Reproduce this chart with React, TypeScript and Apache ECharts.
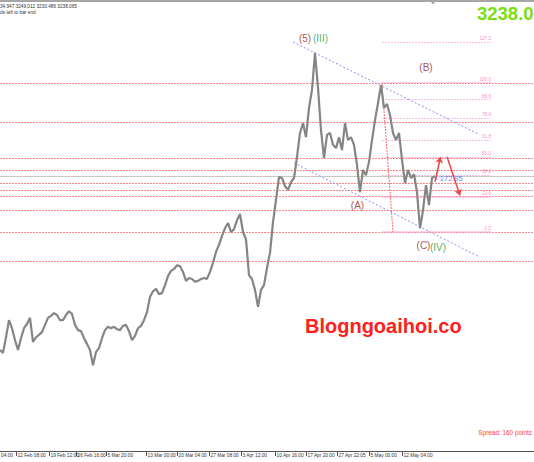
import React, { useEffect, useRef } from "react";
import * as echarts from "echarts";

// ---------- data ----------
const BAR_STEP = 3; // bars between samples
const closePrices = [
  2871, 2865, 2898, 2934, 2917, 2892, 2871, 2896, 2917, 2926,
  2939, 2888, 2898, 2903, 2909, 2924, 2939, 2943, 2949, 2945,
  2934, 2934, 2945, 2953, 2947, 2924, 2913, 2911, 2896, 2884,
  2871, 2839, 2867, 2875, 2896, 2913, 2920, 2917, 2920, 2915,
  2913, 2922, 2924, 2911, 2892, 2901, 2917, 2922, 2934, 2951,
  2983, 2995, 3000, 2989, 2991, 3008, 3027, 3038, 3042, 3050,
  3048, 3036, 3017, 3023, 3021, 3015, 3017, 3021, 3023, 3021,
  3036, 3055, 3078, 3093, 3112, 3128, 3139, 3120, 3126, 3145,
  3158, 3120, 3105, 3029, 3021, 2998, 2962, 2998, 3008, 3044,
  3076, 3141, 3188, 3236, 3234, 3217, 3209, 3225, 3234, 3278,
  3329, 3350, 3320, 3382, 3420, 3498, 3424, 3335, 3276, 3325,
  3329, 3304, 3297, 3320, 3293, 3350, 3314, 3320, 3304, 3261,
  3204, 3251, 3240, 3268, 3314, 3356, 3392, 3430, 3382, 3390,
  3367, 3329, 3314, 3329, 3272, 3223, 3251, 3234, 3242, 3204,
  3128, 3166, 3219, 3177, 3234, 3238,
];

const tickBars = [16, 49, 76, 106, 146, 177, 209, 241, 275, 306, 337, 369, 402];
const tickLabels = [
  "12 Feb 08:00", "19 Feb 12:00", "26 Feb 16:00", "5 Mar 20:00",
  "13 Mar 00:00", "20 Mar 04:00", "27 Mar 08:00", "3 Apr 12:00", "10 Apr 16:00",
  "17 Apr 20:00", "27 Apr 22:05", "5 May 00:00", "12 May 04:00",
];
const leftEdgeLabel = "04:00";

const levelPrices = [3434, 3352, 3276, 3250, 3222, 3208, 3195, 3165, 3120, 3059];
const currentPrice = 3238.065;

const fibLow = 3120;
const fibHigh = 3435;
const fibLevels = [0, 23.6, 38.2, 50, 61.8, 76.4, 88.6, 100, 127.2];
const fibStartBar = 382;
const fibEndBar = 491;

const channelUpper = [[293, 3521], [478, 3327]];
const channelLower = [[294, 3266], [478, 3069]];
const fibTrend = [[382, 3432], [393, 3120]];
const arrowUp = [[435, 3226], [440.5, 3278]];
const arrowDown = [[447, 3279], [460, 3197]];

const waveTexts = ["(5)", "(III)", "(B)", "(A)", "(C)", "(IV)"];
const waveBars = [305, 320.5, 426, 357.5, 423.5, 438];
const wavePrices = [3529, 3529, 3467, 3175, 3092, 3088];
const waveDegree = ["minor", "major", "minor", "minor", "minor", "major"];

const measureText = "‹ 172.95";
const measureBar = 449;
const measurePrice = 3232;

const headerLine1 = "34.947 3249.012 3233.486 3238.065";
const headerLine2 = "ds left to bar end";
const bigPriceText = "3238.0";
const watermark = "Blogngoaihoi.co";
const spreadText = "Spread: 160 points";

// ---------- layout constants ----------
const X_MIN = 0;
const X_MAX = 534;
const Y_MIN = 2658;
const Y_MAX = 3605.3;
const FONT = '"Liberation Sans", Arial, sans-serif';
const WAVE_RED = "#952424";
const WAVE_GREEN = "#2f9a3a";
const AXIS_FONT = 4.8;

function buildOption(): any {
  const priceData = closePrices.map((p, i) => [i * BAR_STEP, p]);

  const levelData = levelPrices.map((v) => ({
    coords: [[X_MIN, v], [X_MAX, v]],
  }));

  const fibLineData = fibLevels.map((lvl) => {
    const p = fibLow + ((fibHigh - fibLow) * lvl) / 100;
    const solid = lvl === 0 || lvl === 23.6;
    return {
      coords: [[fibStartBar, p], [fibEndBar, p]],
      lineStyle: solid
        ? { color: "#ffa6d6", width: 2, type: "solid" }
        : { color: "#ff7ccc", width: 1, type: [2, 1] },
    };
  });

  const fibLabelData = fibLevels.map((lvl) => ({
    value: [fibEndBar, fibLow + ((fibHigh - fibLow) * lvl) / 100],
    name: lvl.toFixed(1),
  }));

  const waveData = waveTexts.map((t, i) => ({
    value: [waveBars[i], wavePrices[i]],
    name: t,
    label: { color: waveDegree[i] === "major" ? WAVE_GREEN : WAVE_RED },
  }));

  return {
    animation: false,
    backgroundColor: "#ffffff",
    textStyle: { fontFamily: FONT },
    grid: { left: 0, right: 0, top: 2, bottom: 11, containLabel: false },
    xAxis: {
      type: "value",
      min: X_MIN,
      max: X_MAX,
      splitLine: { show: false },
      axisLine: { show: true, lineStyle: { color: "#555555", width: 1 } },
      axisTick: {
        show: true,
        inside: false,
        length: 5,
        customValues: tickBars,
        lineStyle: { color: "#555555", width: 1 },
      },
      axisLabel: {
        show: true,
        customValues: tickBars,
        formatter: (v: number) => {
          const idx = tickBars.indexOf(v);
          return idx >= 0 ? tickLabels[idx] : "";
        },
        align: "left",
        verticalAlign: "top",
        padding: [0, 0, 0, 1.5],
        margin: 1.5,
        fontSize: AXIS_FONT,
        color: "#333333",
        fontFamily: FONT,
        hideOverlap: false,
      },
    },
    yAxis: {
      type: "value",
      min: Y_MIN,
      max: Y_MAX,
      show: false,
      splitLine: { show: false },
    },
    series: [
      {
        type: "lines",
        coordinateSystem: "cartesian2d",
        silent: true,
        z: 1,
        lineStyle: { color: "#ff8484", width: 1, type: [2, 1], opacity: 1 },
        data: levelData,
      },
      {
        type: "lines",
        coordinateSystem: "cartesian2d",
        silent: true,
        z: 1,
        lineStyle: { color: "#c6c6c6", width: 1, type: "solid", opacity: 1 },
        data: [{ coords: [[X_MIN, currentPrice], [X_MAX, currentPrice]] }],
      },
      {
        type: "lines",
        coordinateSystem: "cartesian2d",
        silent: true,
        z: 2,
        data: fibLineData,
      },
      {
        type: "lines",
        coordinateSystem: "cartesian2d",
        silent: true,
        z: 2,
        lineStyle: { color: "#8c8cff", width: 1, type: [2, 2], opacity: 1 },
        data: [{ coords: channelUpper }, { coords: channelLower }],
      },
      {
        type: "lines",
        coordinateSystem: "cartesian2d",
        silent: true,
        z: 2,
        lineStyle: { color: "#ff6a6a", width: 1, type: [2, 1], opacity: 1 },
        data: [{ coords: fibTrend }],
      },
      {
        type: "line",
        data: priceData,
        showSymbol: false,
        z: 3,
        lineStyle: { color: "#858585", width: 2.2 },
        silent: true,
      },
      {
        type: "lines",
        coordinateSystem: "cartesian2d",
        silent: true,
        z: 4,
        symbol: ["none", "arrow"],
        symbolSize: 6,
        lineStyle: { color: "#ee4444", width: 1.5, type: "solid", opacity: 1 },
        data: [{ coords: arrowUp }, { coords: arrowDown }],
      },
      {
        type: "scatter",
        symbolSize: 0,
        silent: true,
        z: 5,
        data: fibLabelData,
        label: {
          show: true,
          position: [0, -1],
          align: "right",
          verticalAlign: "bottom",
          formatter: (p: any) => p.name,
          fontSize: 4.6,
          color: "#ff66bb",
          fontFamily: FONT,
        },
      },
      {
        type: "scatter",
        symbolSize: 0,
        silent: true,
        z: 5,
        data: waveData,
        label: {
          show: true,
          position: [0, 0],
          align: "center",
          verticalAlign: "middle",
          formatter: (p: any) => p.name,
          fontSize: 10,
          fontFamily: FONT,
        },
      },
      {
        type: "scatter",
        symbolSize: 0,
        silent: true,
        z: 5,
        data: [{ value: [measureBar, measurePrice], name: measureText }],
        label: {
          show: true,
          position: [0, 0],
          align: "center",
          verticalAlign: "middle",
          formatter: (p: any) => p.name,
          fontSize: 7.5,
          color: "#5a5aff",
          fontFamily: FONT,
        },
      },
    ],
    graphic: [
      {
        type: "rect",
        shape: { x: 0, y: 0, width: 534, height: 2 },
        style: { fill: "#a6a6a6" },
        silent: true,
      },
      {
        type: "polygon",
        shape: { points: [[431, 2], [435, 2], [433, 4.5]] },
        style: { fill: "#a6a6a6" },
        silent: true,
      },
      {
        type: "text",
        x: 0,
        y: 6,
        style: {
          text: headerLine1,
          font: `4.7px ${FONT}`,
          fill: "#333333",
          textVerticalAlign: "middle",
        },
        silent: true,
      },
      {
        type: "text",
        x: 0,
        y: 12.5,
        style: {
          text: headerLine2,
          font: `4.8px ${FONT}`,
          fill: "#333333",
          textVerticalAlign: "middle",
        },
        silent: true,
      },
      {
        type: "text",
        x: 1,
        y: 452.5,
        style: {
          text: leftEdgeLabel,
          font: `${AXIS_FONT}px ${FONT}`,
          fill: "#333333",
          textVerticalAlign: "top",
        },
        silent: true,
      },
      {
        type: "text",
        x: 477,
        y: 13,
        style: {
          text: bigPriceText,
          font: `bold 18.5px ${FONT}`,
          fill: "#78e010",
          textVerticalAlign: "middle",
        },
        silent: true,
      },
      {
        type: "text",
        x: 305,
        y: 326,
        style: {
          text: watermark,
          font: `bold 20px ${FONT}`,
          fill: "#ff2020",
          textVerticalAlign: "middle",
        },
        silent: true,
      },
      {
        type: "text",
        x: 532,
        y: 432,
        style: {
          text: spreadText,
          font: `6.4px ${FONT}`,
          fill: "#ff4444",
          textAlign: "right",
          textVerticalAlign: "middle",
        },
        silent: true,
      },
    ],
  };
}

export default function App() {
  const ref = useRef<HTMLDivElement>(null);
  useEffect(() => {
    if (!ref.current) return;
    const chart = echarts.init(ref.current, null, { renderer: "svg" });
    chart.setOption(buildOption());
    return () => chart.dispose();
  }, []);
  return (
    <div
      ref={ref}
      style={{ position: "absolute", left: 0, top: 0, width: 534, height: 462 }}
    />
  );
}
